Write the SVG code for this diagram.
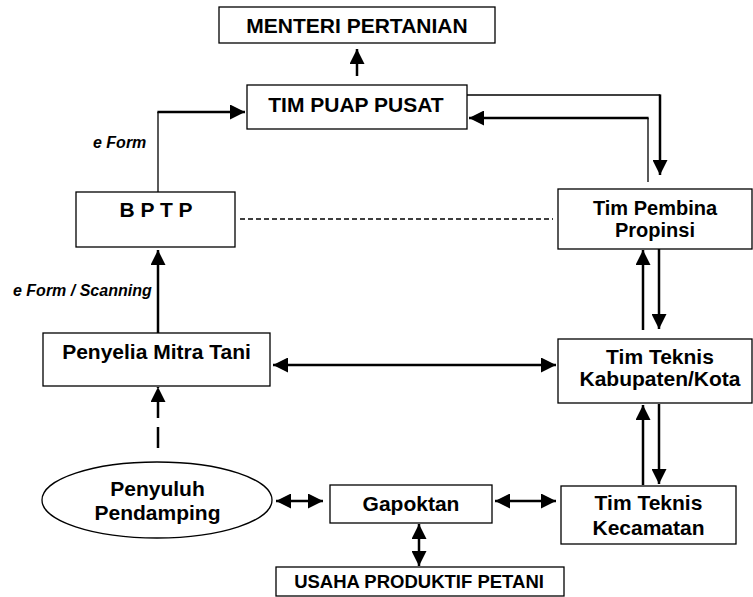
<svg xmlns="http://www.w3.org/2000/svg" width="753" height="597" viewBox="0 0 753 597">
<defs>
<style>
.box{fill:#fff;stroke:#000;stroke-width:1.3}
.t{font-family:"Liberation Sans",Arial,sans-serif;font-weight:bold;font-size:21px;fill:#000;text-anchor:middle}
.s20{font-size:20px}
.s18{font-size:18.5px}
.lbl{font-family:"Liberation Sans",Arial,sans-serif;font-weight:bold;font-style:italic;font-size:16px;fill:#000}
.c{fill:none;stroke:#000;stroke-width:2.5}
.thin{fill:none;stroke:#000;stroke-width:1.3}
.a{marker-end:url(#ah)}
.d{marker-start:url(#ah);marker-end:url(#ah)}
</style>
<marker id="ah" markerUnits="userSpaceOnUse" markerWidth="16" markerHeight="15" refX="15" refY="7.5" orient="auto-start-reverse" viewBox="0 0 16 15">
<path d="M0,0 L15,7.5 L0,15 z" fill="#000"/>
</marker>
</defs>
<rect width="753" height="597" fill="#fff"/>
<g id="connectors">
<line class="c a" x1="357" y1="76" x2="357" y2="49"/>
<line class="thin" x1="158" y1="192" x2="158" y2="112"/>
<line class="c a" x1="157.4" y1="112" x2="245" y2="112"/>
<line class="thin" x1="467" y1="95" x2="660" y2="95"/>
<line class="c a" x1="660" y1="94.4" x2="660" y2="175"/>
<line class="thin" x1="648" y1="182" x2="648" y2="118"/>
<line class="c a" x1="648.6" y1="118" x2="469" y2="118"/>
<line class="thin" x1="240" y1="219" x2="553" y2="219" stroke-dasharray="5 3"/>
<line class="c a" x1="158" y1="333" x2="158" y2="250"/>
<line class="c a" x1="643" y1="330" x2="643" y2="250"/>
<line class="c a" x1="659" y1="249" x2="659" y2="329"/>
<line class="c a" x1="643" y1="485" x2="643" y2="405"/>
<line class="c a" x1="659" y1="404" x2="659" y2="484"/>
<line class="c d" x1="273" y1="365" x2="556" y2="365"/>
<line class="c a" x1="158" y1="448" x2="158" y2="387" stroke-dasharray="21 9"/>
<line class="c d" x1="276" y1="501" x2="323" y2="501"/>
<line class="c d" x1="495" y1="501" x2="556" y2="501"/>
<line class="c d" x1="419" y1="524" x2="419" y2="566"/>
</g>
<g id="menteri">
<rect class="box" x="219" y="7" width="276" height="36"/>
<text class="t" x="357" y="33">MENTERI PERTANIAN</text>
</g>
<g id="timpuap">
<rect class="box" x="247" y="85" width="220" height="44"/>
<text class="t" x="356" y="112">TIM PUAP PUSAT</text>
</g>
<g id="bptp">
<rect class="box" x="76" y="192" width="159" height="55"/>
<text class="t" x="156" y="217">B P T P</text>
</g>
<g id="pembina">
<rect class="box" x="558" y="189" width="194" height="60"/>
<text class="t s20" x="655" y="215">Tim Pembina</text>
<text class="t s20" x="655" y="237">Propinsi</text>
</g>
<g id="penyelia">
<rect class="box" x="43" y="333" width="227" height="53"/>
<text class="t" x="156.5" y="359">Penyelia Mitra Tani</text>
</g>
<g id="kabupaten">
<rect class="box" x="558" y="339" width="194" height="64"/>
<text class="t" x="660" y="364">Tim Teknis</text>
<text class="t" x="660" y="386">Kabupaten/Kota</text>
</g>
<g id="penyuluh">
<ellipse class="box" cx="157" cy="500" rx="115" ry="38"/>
<text class="t" x="157.5" y="496">Penyuluh</text>
<text class="t" x="157.5" y="520">Pendamping</text>
</g>
<g id="gapoktan">
<rect class="box" x="330" y="485" width="162" height="38"/>
<text class="t" x="411" y="511">Gapoktan</text>
</g>
<g id="kecamatan">
<rect class="box" x="561" y="486" width="175" height="58"/>
<text class="t" x="648.5" y="510">Tim Teknis</text>
<text class="t" x="648.5" y="535">Kecamatan</text>
</g>
<g id="usaha">
<rect class="box" x="276" y="567" width="288" height="29"/>
<text class="t s18" x="419" y="588">USAHA PRODUKTIF PETANI</text>
</g>
<g id="labels">
<text class="lbl" x="93" y="148">e Form</text>
<text class="lbl" x="13" y="296">e Form / Scanning</text>
</g>
</svg>
